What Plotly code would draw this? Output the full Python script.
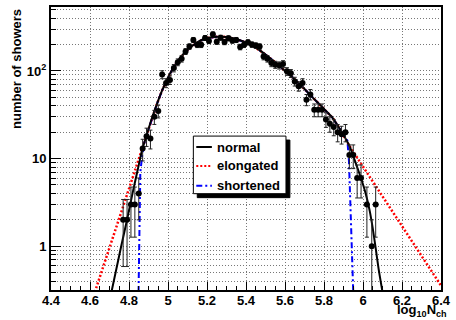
import numpy as np
import plotly.graph_objects as go

# --- measured shower-size distribution (bin centre of log10 Nch, counts) ---
bin_x = [4.77, 4.79, 4.81, 4.83, 4.85, 4.87, 4.89, 4.91, 4.93, 4.95,
         4.97, 4.99, 5.01, 5.03, 5.05, 5.07, 5.09, 5.11, 5.13, 5.15,
         5.17, 5.19, 5.21, 5.23, 5.25, 5.27, 5.29, 5.31, 5.33, 5.35,
         5.37, 5.39, 5.41, 5.43, 5.45, 5.47, 5.49, 5.51, 5.53, 5.55,
         5.57, 5.59, 5.61, 5.63, 5.65, 5.67, 5.69, 5.71, 5.73, 5.75,
         5.77, 5.79, 5.81, 5.83, 5.85, 5.87, 5.89, 5.91, 5.93, 5.95,
         5.97, 5.99, 6.02, 6.045, 6.065]
counts = [2, 2, 3, 3, 4, 13, 18, 17, 30, 35,
          91, 73, 79, 108, 126, 138, 167, 190, 226, 199,
          199, 238, 220, 262, 216, 240, 214, 236, 222, 226,
          188, 199, 212, 200, 195, 190, 146, 138, 123, 118,
          116, 120, 99, 94, 76, 67, 73, 47, 54, 36,
          36, 36, 28, 25, 23, 20, 19, 20, 11, 11,
          6, 6, 3, 1, 3]

# --- fitted distribution for normal showers ---
normal_x = [4.71, 4.76, 4.79, 4.82, 4.845, 4.865, 4.88, 4.895, 4.92, 4.945,
            4.97, 4.995, 5.02, 5.045, 5.07, 5.095, 5.12, 5.145, 5.17, 5.195,
            5.225, 5.25, 5.28, 5.31, 5.345, 5.38, 5.41, 5.445, 5.48, 5.51,
            5.545, 5.58, 5.61, 5.645, 5.68, 5.71, 5.745, 5.78, 5.81, 5.845,
            5.88, 5.91, 5.93, 5.945, 5.97, 5.995, 6.015, 6.035, 6.05, 6.065,
            6.08, 6.10]
normal_y = [0.3, 1.0, 2.0, 4.2, 7.5, 12.0, 15.5, 20.0, 30.0, 43.0,
            60.0, 80.0, 102.0, 125.0, 148.0, 170.0, 190.0, 208.0, 224.0, 236.0,
            243.0, 246.0, 246.0, 242.0, 232.0, 220.0, 207.0, 188.0, 166.0, 148.0,
            128.0, 110.0, 95.0, 82.0, 69.0, 59.0, 49.0, 41.0, 35.0, 29.0,
            22.0, 17.0, 14.0, 11.5, 8.0, 5.5, 3.9, 2.5, 1.6, 0.95,
            0.55, 0.3]

# --- tails of the elongated / shortened hypotheses (they follow the normal fit in between) ---
elong_left_x = [4.625, 4.862]
elong_left_y = [0.3, 12.0]
elong_right_x = [5.93, 6.40]
elong_right_y = [14.0, 0.355]

short_left_x = [4.849, 4.851, 4.853, 4.858, 4.868, 4.88]
short_left_y = [0.3, 1.0, 3.0, 7.0, 11.0, 15.5]
short_right_x = [5.91, 5.92, 5.928, 5.937, 5.944, 5.95]
short_right_y = [17.0, 16.0, 9.4, 2.75, 1.0, 0.3]

y_tickvals = [1, 10, 100]
y_ticktext = ["1", "10", "10<sup>2</sup>"]
x_tickvals = [4.4, 4.6, 4.8, 5.0, 5.2, 5.4, 5.6, 5.8, 6.0, 6.2, 6.4]
x_ticktext = ["4.4", "4.6", "4.8", "5", "5.2", "5.4", "5.6", "5.8", "6", "6.2", "6.4"]

legend_names = ["normal", "elongated", "shortened"]
colors = {"normal": "#000000", "elongated": "#ff0000", "shortened": "#0000ff"}
dashes = {"normal": "solid", "elongated": "2px,2px", "shortened": "6px,3px,2px,3px"}

FONT = "Liberation Sans"
W, H = 456, 320
ML, MR, MT, MB = 51, 5, 5, 30
GRID = "#777777"
GRID_DASH = "1px,2px"


def middle(x0, x1):
    nx = np.array(normal_x)
    ny = np.array(normal_y)
    keep = (nx > x0) & (nx < x1)
    return list(nx[keep]), list(ny[keep])


mid_ex, mid_ey = middle(elong_left_x[-1], elong_right_x[0])
elong_x = elong_left_x + mid_ex + elong_right_x
elong_y = elong_left_y + mid_ey + elong_right_y

mid_sx, mid_sy = middle(short_left_x[-1], short_right_x[0])
short_x = short_left_x + mid_sx + short_right_x
short_y = short_left_y + mid_sy + short_right_y

fig = go.Figure()

fig.add_trace(go.Scatter(x=elong_x, y=elong_y, mode="lines",
                         line=dict(color=colors["elongated"], width=2.5, dash=dashes["elongated"]),
                         showlegend=False, hoverinfo="skip"))
fig.add_trace(go.Scatter(x=short_x, y=short_y, mode="lines",
                         line=dict(color=colors["shortened"], width=2, dash=dashes["shortened"]),
                         showlegend=False, hoverinfo="skip"))
fig.add_trace(go.Scatter(x=normal_x, y=normal_y, mode="lines",
                         line=dict(color=colors["normal"], width=2, shape="spline", smoothing=0.6),
                         showlegend=False, hoverinfo="skip"))

err = np.sqrt(np.array(counts, dtype=float))
fig.add_trace(go.Scatter(x=bin_x, y=counts, mode="markers",
                         marker=dict(color="black", size=6),
                         error_y=dict(type="data", array=err, color="#222222", thickness=1, width=2),
                         showlegend=False))

axis_common = dict(showline=True, mirror=True, linecolor="black", linewidth=2,
                   showgrid=True, gridcolor=GRID, griddash=GRID_DASH, gridwidth=1,
                   ticks="inside", tickcolor="black", zeroline=False,
                   ticklabeloverflow="allow",
                   tickfont=dict(family=FONT, size=13, color="black"))

fig.update_xaxes(range=[4.4, 6.4], tickmode="array", tickvals=x_tickvals, ticktext=x_ticktext,
                 ticklen=8, tickwidth=1, ticklabelstandoff=-3,
                 minor=dict(dtick=0.05, ticklen=4, tickcolor="black", ticks="inside", showgrid=False),
                 **axis_common)
fig.update_yaxes(type="log", range=[-0.5, 2.73], tickmode="array", tickvals=y_tickvals,
                 ticktext=y_ticktext, ticklen=10, tickwidth=1,
                 minor=dict(dtick="D1", ticklen=5, tickcolor="black", ticks="inside",
                            showgrid=True, gridcolor=GRID, griddash=GRID_DASH, gridwidth=1),
                 **axis_common)


def px(xp):
    return (xp - ML) / (W - ML - MR)


def py(yp):
    return (H - MB - yp) / (H - MT - MB)


# legend box with drop shadow
box = dict(x0=197, x1=292, y0=135, y1=193)
shadow = 4
fig.add_shape(type="rect", xref="paper", yref="paper", layer="above",
              x0=px(box["x0"] + shadow), x1=px(box["x1"] + shadow),
              y0=py(box["y1"] + shadow), y1=py(box["y0"] + shadow),
              fillcolor="black", line=dict(color="black", width=1))
fig.add_shape(type="rect", xref="paper", yref="paper", layer="above",
              x0=px(box["x0"]), x1=px(box["x1"]), y0=py(box["y1"]), y1=py(box["y0"]),
              fillcolor="white", line=dict(color="black", width=1))
row_y = [146, 165, 185]
for name, ry in zip(legend_names, row_y):
    fig.add_shape(type="line", xref="paper", yref="paper", layer="above",
                  x0=px(200), x1=px(216), y0=py(ry), y1=py(ry),
                  line=dict(color=colors[name], width=2, dash=dashes[name]))
    fig.add_annotation(xref="paper", yref="paper", x=px(219), y=py(ry), xanchor="left",
                       yanchor="middle", text=name, showarrow=False,
                       font=dict(family=FONT, size=13, color="black"))

fig.add_annotation(xref="paper", yref="paper", x=px(15), y=1.0, xanchor="center", yanchor="top",
                   text="<b>number of showers</b>", textangle=-90, showarrow=False,
                   font=dict(family=FONT, size=13, color="black"))
fig.add_annotation(xref="paper", yref="paper", x=px(459), y=py(311), xanchor="right",
                   yanchor="middle", text="<b>log<sub>10</sub>N<sub>ch</sub></b>", showarrow=False,
                   font=dict(family=FONT, size=13, color="black"))

fig.update_layout(width=W, height=H, margin=dict(l=ML, r=MR, t=MT, b=MB),
                  paper_bgcolor="white", plot_bgcolor="white",
                  font=dict(family=FONT, size=13, color="black", weight="bold"))

fig.write_html("out.html")
